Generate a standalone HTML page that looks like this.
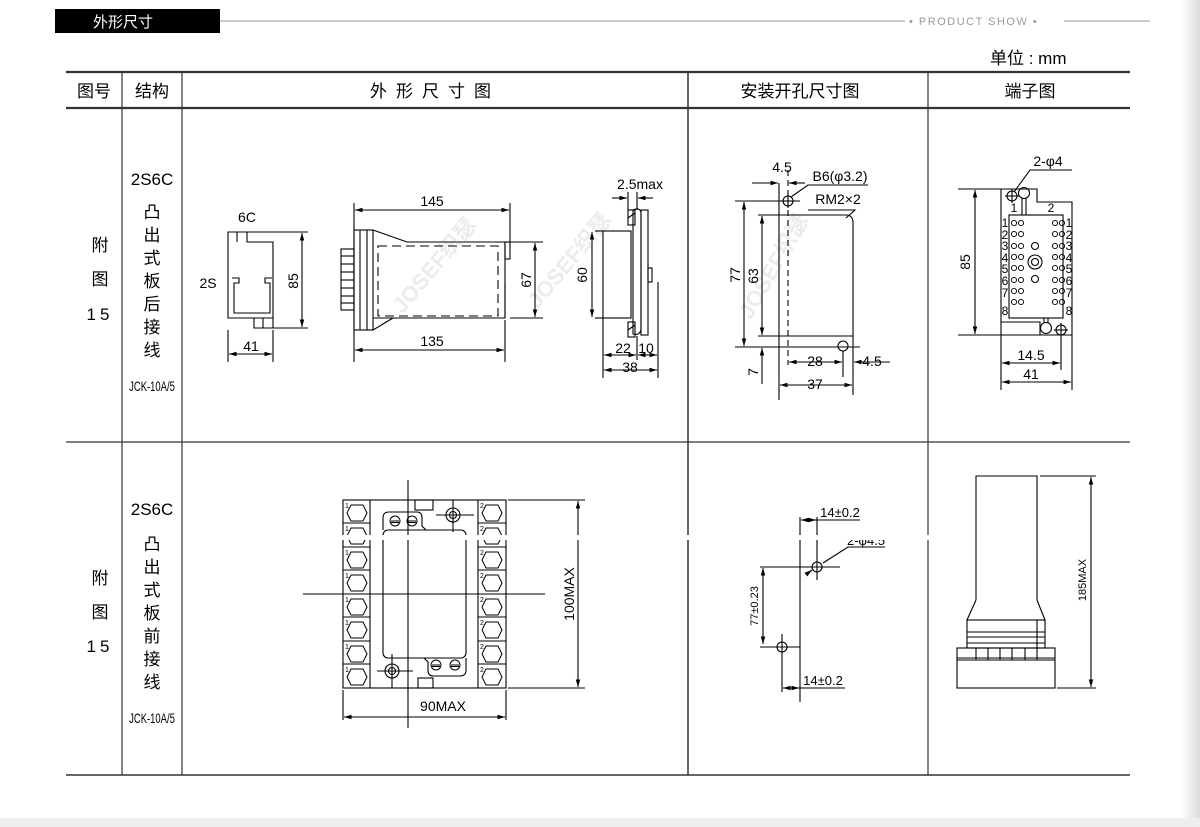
<!DOCTYPE html>
<html><head><meta charset="utf-8"><style>
html,body{margin:0;padding:0;background:#fff;}
body{width:1200px;height:827px;overflow:hidden;position:relative;font-family:"Liberation Sans","Noto Sans CJK SC",sans-serif;}
svg{position:absolute;left:0;top:0;}
</style></head><body>
<svg width="1200" height="827" viewBox="0 0 1200 827" xmlns="http://www.w3.org/2000/svg" font-family="'Liberation Sans','Noto Sans CJK SC',sans-serif">
<defs>
<marker id="a" viewBox="0 0 10 10" refX="10" refY="5" markerWidth="7" markerHeight="7" orient="auto-start-reverse"><path d="M0,2 L10,5 L0,8 z" fill="#000"/></marker>
<linearGradient id="sh" x1="0" x2="1"><stop offset="0" stop-color="#fff"/><stop offset="1" stop-color="#ddd"/></linearGradient>
<g id="hex"><path d="M-6,-8 L6,-8 L10,0 L6,8 L-6,8 L-10,0 Z" fill="none" stroke="#000" stroke-width="1"/></g>
<g id="scr"><circle r="5" fill="none" stroke="#000"/><line x1="-4" y1="0" x2="4" y2="0" stroke="#000"/><line x1="-4" y1="1.5" x2="4" y2="1.5" stroke="#000"/></g>
<g id="o"><circle r="2.6" fill="none" stroke="#000" stroke-width="0.9"/></g>
</defs>
<rect x="1180" y="0" width="20" height="827" fill="url(#sh)"/>
<rect x="0" y="818" width="1200" height="9" fill="#eee"/>
<rect x="55" y="9" width="165" height="24" fill="#000"/>
<text x="93" y="27" font-size="15" fill="#fff">外形尺寸</text>
<line x1="220" y1="21" x2="905" y2="21" stroke="#999" stroke-width="1"/>
<text x="909" y="25" font-size="11" fill="#999" letter-spacing="1.5">• PRODUCT SHOW •</text>
<line x1="1064" y1="21" x2="1150" y2="21" stroke="#999" stroke-width="1"/>
<text x="990" y="64" font-size="17" fill="#000">单位 : mm</text>
<g stroke="#333">
<line x1="66" y1="72" x2="1130" y2="72" stroke-width="2.2"/>
<line x1="66" y1="108" x2="1130" y2="108" stroke-width="2.2"/>
<line x1="66" y1="442" x2="1130" y2="442" stroke-width="1.2"/>
<line x1="66" y1="775" x2="1130" y2="775" stroke-width="1.5"/>
<line x1="122" y1="72" x2="122" y2="775" stroke-width="1.2"/>
<line x1="182" y1="72" x2="182" y2="775" stroke-width="1.2"/>
<line x1="688" y1="72" x2="688" y2="775" stroke-width="1.5"/>
<line x1="928" y1="72" x2="928" y2="775" stroke-width="1.2"/>
</g>
<g font-size="17" fill="#000" text-anchor="middle">
<text x="94" y="97">图号</text><text x="152" y="97">结构</text>
<text x="435" y="97" letter-spacing="9">外形尺寸图</text>
<text x="800" y="97">安装开孔尺寸图</text>
<text x="1030" y="97">端子图</text>
</g>
<g font-size="17" fill="#000" text-anchor="middle">
<text x="100" y="251">附</text><text x="100" y="285">图</text><text x="100" y="320" letter-spacing="4">15</text>
<text x="152" y="185">2S6C</text>
<text x="152" y="218">凸</text><text x="152" y="241">出</text><text x="152" y="264">式</text><text x="152" y="287">板</text><text x="152" y="310">后</text><text x="152" y="333">接</text><text x="152" y="356">线</text>
<text x="100" y="584">附</text><text x="100" y="618">图</text><text x="100" y="652" letter-spacing="4">15</text>
<text x="152" y="515">2S6C</text>
<text x="152" y="550">凸</text><text x="152" y="573">出</text><text x="152" y="596">式</text><text x="152" y="619">板</text><text x="152" y="642">前</text><text x="152" y="665">接</text><text x="152" y="688">线</text>
</g>
<g font-size="13.5" fill="#000" text-anchor="middle">
<text x="152" y="391" transform="translate(152 0) scale(0.7 1) translate(-152 0)">JCK-10A/5</text>
<text x="152" y="723" transform="translate(152 0) scale(0.7 1) translate(-152 0)">JCK-10A/5</text>
</g>
<g font-size="22" font-weight="bold" fill="#ececec" text-anchor="middle">
<text transform="translate(440 270) rotate(-50)">JOSEF织瑟</text>
<text transform="translate(575 265) rotate(-50)">JOSEF织瑟</text>
<text transform="translate(780 270) rotate(-60)">JOSEF织瑟</text>
</g>
<g fill="none" stroke="#000" stroke-width="1.1">
<path d="M228,232 H247 V242 H273 V318 H228 Z"/>
<line x1="237" y1="232" x2="237" y2="242"/>
<path d="M254,318 V328 H273 V318"/><line x1="263" y1="318" x2="263" y2="328"/>
<path d="M232,278 H239 V283 H234 V313 H270 V283 H265 V278 H272"/>
<line x1="247" y1="232" x2="308" y2="232"/><line x1="273" y1="328" x2="308" y2="328"/>
<line x1="302" y1="233" x2="302" y2="327" marker-start="url(#a)" marker-end="url(#a)"/>
<line x1="228" y1="330" x2="228" y2="362"/><line x1="273" y1="330" x2="273" y2="362"/>
<line x1="229" y1="354" x2="272" y2="354" marker-start="url(#a)" marker-end="url(#a)"/>
<rect x="354" y="230" width="19" height="100"/>
<line x1="360" y1="230" x2="360" y2="330"/><line x1="367" y1="230" x2="367" y2="330"/>
<path d="M373,230 L407,242 H505 V318 H373"/>
<path d="M373,330 L393,318"/>
<rect x="505" y="242" width="5" height="17"/>
<line x1="505" y1="283" x2="505" y2="318"/>
<rect x="378" y="246" width="120" height="70" stroke-dasharray="9,5"/>
<g>
<rect x="341" y="249" width="13" height="61"/>
<line x1="341" y1="256" x2="354" y2="256"/><line x1="341" y1="264" x2="354" y2="264"/><line x1="341" y1="272" x2="354" y2="272"/><line x1="341" y1="280" x2="354" y2="280"/><line x1="341" y1="288" x2="354" y2="288"/><line x1="341" y1="296" x2="354" y2="296"/><line x1="341" y1="303" x2="354" y2="303"/>
</g>
<line x1="354" y1="203" x2="354" y2="362"/><line x1="510" y1="203" x2="510" y2="242"/>
<line x1="355" y1="210" x2="509" y2="210" marker-start="url(#a)" marker-end="url(#a)"/>
<line x1="505" y1="320" x2="505" y2="362"/>
<line x1="355" y1="350" x2="504" y2="350" marker-start="url(#a)" marker-end="url(#a)"/>
<line x1="510" y1="242" x2="543" y2="242"/><line x1="510" y1="318" x2="543" y2="318"/>
<line x1="535" y1="243" x2="535" y2="317" marker-start="url(#a)" marker-end="url(#a)"/>
<rect x="603" y="231" width="28" height="87"/>
<path d="M633,210 Q639,207 641,212 V330 Q639,336 633,334 Z"/>
<rect x="641" y="210" width="7" height="125"/>
<rect x="628" y="210" width="7" height="15"/><rect x="628" y="322" width="7" height="15"/>
<line x1="628" y1="218" x2="635" y2="213"/><line x1="628" y1="330" x2="635" y2="325"/>
<rect x="648" y="268" width="4" height="14"/>
<line x1="595" y1="231" x2="603" y2="231"/><line x1="595" y1="318" x2="603" y2="318"/>
<line x1="592" y1="232" x2="592" y2="317" marker-start="url(#a)" marker-end="url(#a)"/>
<line x1="628" y1="192" x2="628" y2="210"/><line x1="637" y1="192" x2="637" y2="210"/>
<line x1="612" y1="198" x2="627" y2="198" marker-end="url(#a)"/><line x1="653" y1="198" x2="638" y2="198" marker-end="url(#a)"/>
<line x1="603" y1="318" x2="603" y2="378"/><line x1="637" y1="336" x2="637" y2="360"/><line x1="658" y1="282" x2="658" y2="378"/>
<line x1="604" y1="355" x2="636" y2="355" marker-start="url(#a)" marker-end="url(#a)"/>
<line x1="638" y1="355" x2="657" y2="355" marker-start="url(#a)" marker-end="url(#a)"/>
<line x1="604" y1="370" x2="657" y2="370" marker-start="url(#a)" marker-end="url(#a)"/>
<line x1="779" y1="183" x2="779" y2="400"/>
<path d="M779,215 H846 Q853,215 853,223 V336 H779"/>
<line x1="853" y1="336" x2="853" y2="395"/>
<line x1="788" y1="170" x2="788" y2="365" stroke-dasharray="6,4"/>
<circle cx="788" cy="201" r="5"/><line x1="781" y1="201" x2="795" y2="201"/><line x1="788" y1="194" x2="788" y2="208"/>
<circle cx="843" cy="346" r="5"/><line x1="843" y1="351" x2="843" y2="377"/>
<line x1="735" y1="201" x2="800" y2="201"/><line x1="735" y1="347" x2="860" y2="347"/>
<line x1="758" y1="215" x2="779" y2="215"/><line x1="758" y1="336" x2="779" y2="336"/>
<line x1="744" y1="202" x2="744" y2="346" marker-start="url(#a)" marker-end="url(#a)"/>
<line x1="762" y1="216" x2="762" y2="335" marker-start="url(#a)" marker-end="url(#a)"/>
<line x1="762" y1="384" x2="762" y2="348" marker-end="url(#a)"/>
<line x1="752" y1="183" x2="778" y2="183" marker-end="url(#a)"/><line x1="805" y1="183" x2="789" y2="183" marker-end="url(#a)"/>
<path d="M791,197 L808,185 H868"/>
<path d="M808,210 H855 L846,218"/>
<line x1="789" y1="362" x2="842" y2="362" marker-start="url(#a)" marker-end="url(#a)"/>
<line x1="890" y1="362" x2="854" y2="362" marker-end="url(#a)"/>
<line x1="780" y1="385" x2="852" y2="385" marker-start="url(#a)" marker-end="url(#a)"/>
<path d="M1001,189 H1037 V202 H1072 V335 H1040 V322 H1001 Z"/>
<rect x="1009" y="215" width="54" height="103"/>
<circle cx="1012" cy="196" r="5"/><line x1="1005" y1="196" x2="1019" y2="196"/><line x1="1012" y1="189" x2="1012" y2="203"/>
<circle cx="1024" cy="193" r="5.5"/><line x1="1022" y1="198" x2="1022" y2="215"/><line x1="1026" y1="198" x2="1026" y2="215"/>
<circle cx="1046" cy="328" r="5.5"/><line x1="1044" y1="318" x2="1044" y2="323"/><line x1="1048" y1="318" x2="1048" y2="323"/>
<circle cx="1061" cy="330" r="5"/><line x1="1054" y1="330" x2="1068" y2="330"/><line x1="1061" y1="323" x2="1061" y2="337"/>
<circle cx="1035" cy="262" r="7"/><circle cx="1035" cy="262" r="3.5"/>
<circle cx="1035" cy="246" r="3.5"/><circle cx="1035" cy="279" r="3.5"/>
<path d="M1014,192 L1030,170 H1072"/>
<line x1="958" y1="189" x2="1001" y2="189"/><line x1="958" y1="335" x2="1040" y2="335"/>
<line x1="975" y1="190" x2="975" y2="334" marker-start="url(#a)" marker-end="url(#a)"/>
<line x1="1001" y1="322" x2="1001" y2="390"/><line x1="1061" y1="337" x2="1061" y2="370"/><line x1="1072" y1="335" x2="1072" y2="390"/>
<line x1="1002" y1="363" x2="1060" y2="363" marker-start="url(#a)" marker-end="url(#a)"/>
<line x1="1002" y1="382" x2="1071" y2="382" marker-start="url(#a)" marker-end="url(#a)"/>
</g>
<g>
<use href="#o" x="1014" y="223"/><use href="#o" x="1021" y="223"/><use href="#o" x="1055" y="223"/><use href="#o" x="1062" y="223"/>
<use href="#o" x="1014" y="234"/><use href="#o" x="1021" y="234"/><use href="#o" x="1055" y="234"/><use href="#o" x="1062" y="234"/>
<use href="#o" x="1014" y="246"/><use href="#o" x="1021" y="246"/><use href="#o" x="1055" y="246"/><use href="#o" x="1062" y="246"/>
<use href="#o" x="1014" y="257"/><use href="#o" x="1021" y="257"/><use href="#o" x="1055" y="257"/><use href="#o" x="1062" y="257"/>
<use href="#o" x="1014" y="268"/><use href="#o" x="1021" y="268"/><use href="#o" x="1055" y="268"/><use href="#o" x="1062" y="268"/>
<use href="#o" x="1014" y="280"/><use href="#o" x="1021" y="280"/><use href="#o" x="1055" y="280"/><use href="#o" x="1062" y="280"/>
<use href="#o" x="1014" y="291"/><use href="#o" x="1021" y="291"/><use href="#o" x="1055" y="291"/><use href="#o" x="1062" y="291"/>
<use href="#o" x="1014" y="302"/><use href="#o" x="1021" y="302"/><use href="#o" x="1055" y="302"/><use href="#o" x="1062" y="302"/>
</g>
<g font-size="12" fill="#000" text-anchor="middle">
<text x="1005" y="227">1</text><text x="1005" y="239">2</text><text x="1005" y="250">3</text><text x="1005" y="262">4</text><text x="1005" y="273">5</text><text x="1005" y="285">6</text><text x="1005" y="297">7</text><text x="1005" y="315">8</text>
<text x="1069" y="227">1</text><text x="1069" y="239">2</text><text x="1069" y="250">3</text><text x="1069" y="262">4</text><text x="1069" y="273">5</text><text x="1069" y="285">6</text><text x="1069" y="297">7</text><text x="1069" y="315">8</text>
<text x="1014" y="212">1</text><text x="1051" y="212">2</text>
</g>
<g font-size="14" fill="#000" text-anchor="middle">
<text x="247" y="222">6C</text><text x="208" y="288">2S</text>
<text transform="translate(298 281) rotate(-90)">85</text>
<text x="251" y="351">41</text>
<text x="432" y="206">145</text><text x="432" y="346">135</text>
<text transform="translate(531 280) rotate(-90)">67</text>
<text transform="translate(587 275) rotate(-90)">60</text>
<text x="640" y="189">2.5max</text>
<text x="623" y="353">22</text><text x="646" y="353">10</text><text x="630" y="372">38</text>
<text x="782" y="172">4.5</text><text x="840" y="181">B6(φ3.2)</text><text x="838" y="204">RM2×2</text>
<text transform="translate(740 275) rotate(-90)">77</text>
<text transform="translate(758 276) rotate(-90)">63</text>
<text transform="translate(758 372) rotate(-90)">7</text>
<text x="815" y="366">28</text><text x="872" y="366">4.5</text><text x="815" y="389">37</text>
<text x="1048" y="166">2-φ4</text>
<text transform="translate(970 262) rotate(-90)">85</text>
<text x="1031" y="360">14.5</text><text x="1031" y="379">41</text>
</g>
<g fill="none" stroke="#000" stroke-width="1.1">
<rect x="343" y="500" width="163" height="188"/>
<line x1="370" y1="500" x2="370" y2="688"/><line x1="478" y1="500" x2="478" y2="688"/>
<line x1="343" y1="523" x2="370" y2="523"/><line x1="343" y1="547" x2="370" y2="547"/><line x1="343" y1="570" x2="370" y2="570"/><line x1="343" y1="594" x2="370" y2="594"/><line x1="343" y1="617" x2="370" y2="617"/><line x1="343" y1="641" x2="370" y2="641"/><line x1="343" y1="664" x2="370" y2="664"/>
<line x1="478" y1="523" x2="506" y2="523"/><line x1="478" y1="547" x2="506" y2="547"/><line x1="478" y1="570" x2="506" y2="570"/><line x1="478" y1="594" x2="506" y2="594"/><line x1="478" y1="617" x2="506" y2="617"/><line x1="478" y1="641" x2="506" y2="641"/><line x1="478" y1="664" x2="506" y2="664"/>
<rect x="383" y="530" width="83" height="128" rx="5"/>
<path d="M383,530 V518 Q383,512 389,512 H417 Q422,512 422,518 V526 L426,530"/>
<path d="M466,658 V670 Q466,676 460,676 H433 Q428,676 428,670 V662 L424,658"/>
<rect x="415" y="500" width="18" height="10"/><rect x="418" y="678" width="15" height="10"/>
<circle cx="453" cy="515" r="7"/><circle cx="453" cy="515" r="3.5"/><line x1="436" y1="515" x2="474" y2="515"/><line x1="453" y1="500" x2="453" y2="532"/>
<circle cx="392" cy="671" r="7"/><circle cx="392" cy="671" r="3.5"/><line x1="377" y1="671" x2="413" y2="671"/><line x1="392" y1="654" x2="392" y2="688"/>
<line x1="408" y1="480" x2="408" y2="728"/><line x1="303" y1="594" x2="545" y2="594"/>
<line x1="508" y1="500" x2="585" y2="500"/><line x1="508" y1="688" x2="585" y2="688"/>
<line x1="578" y1="501" x2="578" y2="687" marker-start="url(#a)" marker-end="url(#a)"/>
<line x1="343" y1="690" x2="343" y2="720"/><line x1="506" y1="690" x2="506" y2="720"/>
<line x1="344" y1="717" x2="505" y2="717" marker-start="url(#a)" marker-end="url(#a)"/>
</g>
<g>
<use href="#hex" x="357" y="513"/><use href="#hex" x="357" y="536"/><use href="#hex" x="357" y="560"/><use href="#hex" x="357" y="583"/><use href="#hex" x="357" y="607"/><use href="#hex" x="357" y="630"/><use href="#hex" x="357" y="654"/><use href="#hex" x="357" y="677"/>
<use href="#hex" x="492" y="513"/><use href="#hex" x="492" y="536"/><use href="#hex" x="492" y="560"/><use href="#hex" x="492" y="583"/><use href="#hex" x="492" y="607"/><use href="#hex" x="492" y="630"/><use href="#hex" x="492" y="654"/><use href="#hex" x="492" y="677"/>
<use href="#scr" x="395" y="521"/><use href="#scr" x="412" y="521"/><use href="#scr" x="436" y="665"/><use href="#scr" x="455" y="665"/>
</g>
<g font-size="7" fill="#000">
<text x="345" y="508">1</text><text x="345" y="531">1</text><text x="345" y="555">1</text><text x="345" y="578">1</text><text x="345" y="602">1</text><text x="345" y="625">1</text><text x="345" y="649">1</text><text x="345" y="672">1</text>
<text x="480" y="508">2</text><text x="480" y="531">2</text><text x="480" y="555">2</text><text x="480" y="578">2</text><text x="480" y="602">2</text><text x="480" y="625">2</text><text x="480" y="649">2</text><text x="480" y="672">2</text>
</g>
<g fill="none" stroke="#000" stroke-width="1.1">
<line x1="800" y1="517" x2="800" y2="702"/>
<line x1="817" y1="517" x2="817" y2="580"/>
<line x1="801" y1="520" x2="816" y2="520" marker-start="url(#a)" marker-end="url(#a)"/>
<line x1="816" y1="520" x2="860" y2="520"/>
<circle cx="817" cy="567" r="5"/><line x1="760" y1="567" x2="840" y2="567"/>
<path d="M885,547 H848 L823,563"/><line x1="808" y1="573" x2="812" y2="570" marker-end="url(#a)"/>
<line x1="763" y1="568" x2="763" y2="644" marker-start="url(#a)" marker-end="url(#a)"/>
<circle cx="782" cy="647" r="5"/><line x1="760" y1="647" x2="800" y2="647"/><line x1="782" y1="634" x2="782" y2="692"/>
<line x1="783" y1="688" x2="799" y2="688" marker-start="url(#a)" marker-end="url(#a)"/>
<line x1="799" y1="688" x2="845" y2="688"/>
<path d="M976,600 V476 H1037 V600"/>
<path d="M976,600 L967,620 H1045 L1037,600"/>
<rect x="967" y="620" width="78" height="28"/>
<line x1="967" y1="632" x2="1045" y2="632"/><line x1="967" y1="637" x2="1045" y2="637"/><line x1="967" y1="643" x2="1045" y2="643"/>
<line x1="1037" y1="620" x2="1037" y2="648"/>
<rect x="957" y="648" width="98" height="40"/>
<line x1="957" y1="658" x2="1055" y2="658"/><line x1="957" y1="660" x2="1055" y2="660"/>
<line x1="976" y1="648" x2="976" y2="660"/><line x1="988" y1="648" x2="988" y2="660"/><line x1="1000" y1="648" x2="1000" y2="660"/><line x1="1012" y1="648" x2="1012" y2="660"/><line x1="1025" y1="648" x2="1025" y2="660"/><line x1="1037" y1="648" x2="1037" y2="660"/>
<line x1="1040" y1="476" x2="1096" y2="476"/><line x1="1057" y1="688" x2="1096" y2="688"/>
<line x1="1091" y1="477" x2="1091" y2="687" marker-start="url(#a)" marker-end="url(#a)"/>
</g>
<g font-size="13" fill="#000" text-anchor="middle">
<text x="840" y="517">14±0.2</text><text x="823" y="685">14±0.2</text>
<text x="866" y="545">2-φ4.5</text>
<text transform="translate(758 606) rotate(-90)" font-size="11">77±0.23</text>
<text transform="translate(1086 580) rotate(-90)" font-size="11">185MAX</text>
<text transform="translate(574 594) rotate(-90)" font-size="14">100MAX</text>
<text x="443" y="711" font-size="14">90MAX</text>
</g>
<rect x="340" y="535" width="590" height="5" fill="#fff"/>
</svg>
</body></html>
